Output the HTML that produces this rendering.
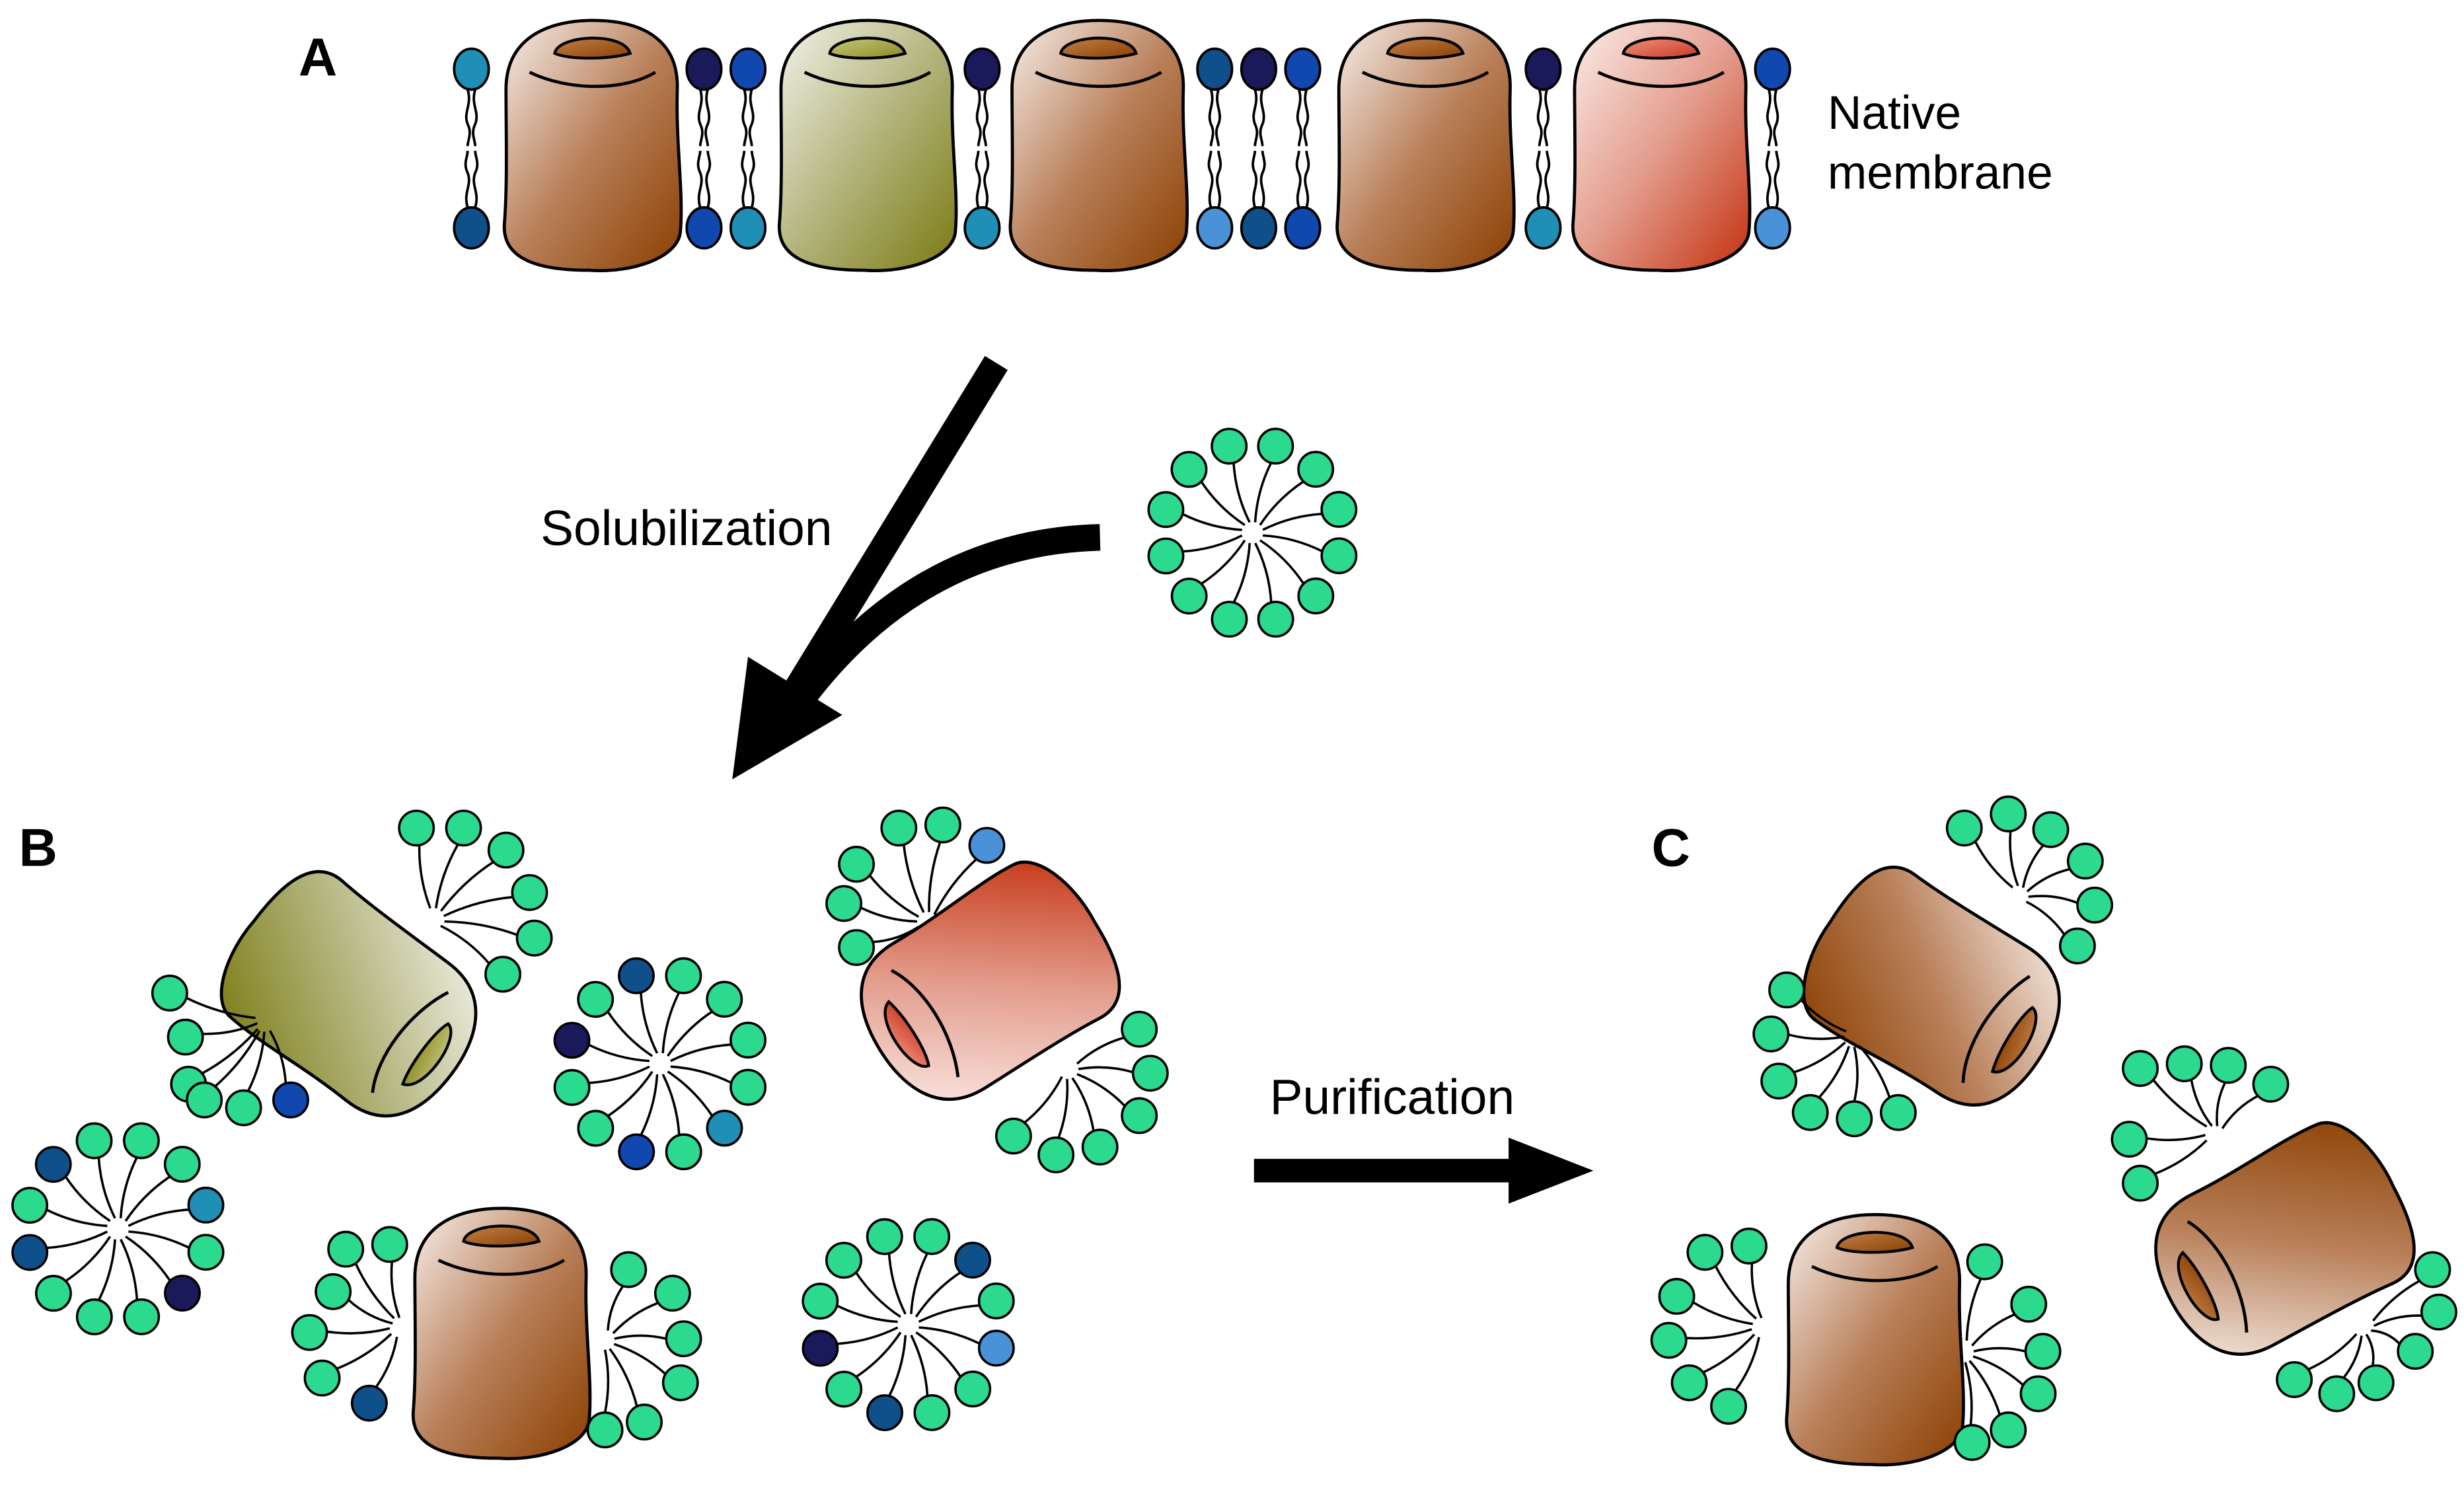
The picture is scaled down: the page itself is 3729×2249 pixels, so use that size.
<!DOCTYPE html>
<html><head><meta charset="utf-8">
<style>
html,body{margin:0;padding:0;background:#fff;}
svg{display:block;}
text{font-family:"Liberation Sans",Arial,sans-serif;fill:#000;}
</style></head>
<body>
<svg id="s" width="3729" height="2249" viewBox="0 0 1568 945.7" preserveAspectRatio="none" xmlns="http://www.w3.org/2000/svg">
<defs>
<linearGradient id="gBrown" x1="0" y1="0" x2="1" y2="1"><stop offset="0" stop-color="#f7efea"/><stop offset="0.5" stop-color="#b9805a"/><stop offset="1" stop-color="#8a3f00"/></linearGradient>
<linearGradient id="gOlive" x1="0" y1="0" x2="1" y2="1"><stop offset="0" stop-color="#f3f3ec"/><stop offset="0.5" stop-color="#b3b47c"/><stop offset="1" stop-color="#7a7a12"/></linearGradient>
<linearGradient id="gRed" x1="0" y1="0" x2="1" y2="1"><stop offset="0" stop-color="#fbeeea"/><stop offset="0.5" stop-color="#e39c8c"/><stop offset="1" stop-color="#c3300e"/></linearGradient>
<linearGradient id="pBrown" x1="0" y1="0" x2="1" y2="1"><stop offset="0" stop-color="#c0804a"/><stop offset="1" stop-color="#8a3f00"/></linearGradient>
<linearGradient id="pOlive" x1="0" y1="0" x2="1" y2="1"><stop offset="0" stop-color="#c8c880"/><stop offset="1" stop-color="#8a8a20"/></linearGradient>
<linearGradient id="pRed" x1="0" y1="0" x2="1" y2="1"><stop offset="0" stop-color="#f09080"/><stop offset="1" stop-color="#c83a20"/></linearGradient>
</defs>
<g id="lip"></g>
<g id="prot"></g>
<g id="mic"></g>
<g fill="none" stroke="#000" stroke-width="17">
<line x1="634" y1="231" x2="500" y2="450"/>
<path d="M700,342 Q585,345 510,445"/>
</g>
<polygon points="466,496 476,418 536,455" fill="#000"/>
<line x1="798" y1="745" x2="965" y2="745" stroke="#000" stroke-width="15"/>
<polygon points="960,724 1014,745 960,766" fill="#000"/>
<text x="190" y="48" font-size="34" font-weight="bold">A</text>
<text x="12" y="551" font-size="34" font-weight="bold">B</text>
<text x="1051" y="551" font-size="34" font-weight="bold">C</text>
<text x="1163" y="82" font-size="30">Native</text>
<text x="1163" y="120" font-size="30">membrane</text>
<text x="344" y="347" font-size="31.5">Solubilization</text>
<text x="808" y="709" font-size="31.5">Purification</text>
</svg>
<script>
var NS="http://www.w3.org/2000/svg";
function el(parent,tag,attrs){var e=document.createElementNS(NS,tag);for(var k in attrs)e.setAttribute(k,attrs[k]);parent.appendChild(e);return e;}
var G='#2bd98f';
var P=document.getElementById('prot');
function protein(cx,cy,rot,c){
 var g=el(P,'g',{transform:'translate('+cx+','+cy+') rotate('+rot+') translate(-59,-80)'});
 el(g,'path',{d:'M5,45 C5,10 35,1 60,1 C90,1 115,12 114,45 C113,80 118,110 116,135 C115,152 85,162 58,160 C30,160 2,155 4,130 C6,105 5,70 5,45 Z',fill:'url(#g'+c+')',stroke:'#000','stroke-width':2});
 el(g,'path',{d:'M20,34 C45,46 80,46 100,34',fill:'none',stroke:'#000','stroke-width':2});
 el(g,'path',{d:'M36,22 C38,10 80,8 84,22 C70,26 45,26 36,22 Z',fill:'url(#p'+c+')',stroke:'#000','stroke-width':1.8});
}
protein(376,92,0,'Brown');protein(551,92,0,'Olive');protein(698,92,0,'Brown');protein(906,92,0,'Brown');protein(1056,92,0,'Red');
protein(225,635,127,'Olive');protein(628,628,-122,'Red');protein(318,848,0,'Brown');
protein(1232,630,122,'Brown');protein(1192,852,0,'Brown');protein(1452,792,-118,'Brown');
var L=document.getElementById('lip');
var lx=[300,448,476,625,773,801,829,982,1128];
var ct=['#1f8fb5','#1a1a5a','#1048b0','#1a1a5a','#10508a','#1a1a5a','#1048b0','#1a1a5a','#1048b0'];
var cb=['#10508a','#1048b0','#1f8fb5','#1f8fb5','#4a92d8','#10508a','#1048b0','#1f8fb5','#4a92d8'];
lx.forEach(function(x,i){
 [[-4,1],[4,-1]].forEach(function(o){
  el(L,'path',{d:'M'+(x+o[0]*0.6)+',57 c'+(o[1]*3)+',10 '+(-o[1]*3)+',14 0,22 c'+(o[1]*3)+',6 0,10 0,14',fill:'none',stroke:'#000','stroke-width':1.6});
  el(L,'path',{d:'M'+(x+o[0]*0.6)+',132 c'+(-o[1]*3)+',-10 '+(o[1]*3)+',-14 0,-22 c'+(-o[1]*3)+',-6 0,-10 0,-14',fill:'none',stroke:'#000','stroke-width':1.6});
 });
 el(L,'ellipse',{cx:x,cy:44,rx:11,ry:13,fill:ct[i],stroke:'#000','stroke-width':1.6});
 el(L,'ellipse',{cx:x,cy:145,rx:11,ry:13,fill:cb[i],stroke:'#000','stroke-width':1.6});
});
var M=document.getElementById('mic');
function head(x,y,cx,cy,col){
 var dx=cx-x,dy=cy-y,d=Math.sqrt(dx*dx+dy*dy),ux=dx/d,uy=dy/d;
 var sx=x+ux*11,sy=y+uy*11,ex=x+dx*0.88,ey=y+dy*0.88;
 var mx=(sx+ex)/2-uy*4,my=(sy+ey)/2+ux*4;
 el(M,'path',{d:'M'+sx+','+sy+' Q'+mx+','+my+' '+ex+','+ey,fill:'none',stroke:'#000','stroke-width':1.5});
 el(M,'circle',{cx:x,cy:y,r:11,fill:col||G,stroke:'#000','stroke-width':1.5});
}
function full(cx,cy,r,n,a0,cols){
 for(var i=0;i<n;i++){var a=a0+i*2*Math.PI/n;head(cx+r*Math.cos(a),cy+r*Math.sin(a),cx,cy,cols&&cols[i]);}
}
full(797,339,57,12,-1.57+0.26);
full(420,677,58,12,-1.57+0.26,[null,null,null,null,'#1f8fb5',null,'#1048b0',null,null,'#1a1a5a',null,'#10508a']);
full(75,782,58,12,-1.57+0.26,[null,null,'#1f8fb5',null,'#1a1a5a',null,null,null,'#10508a',null,'#10508a',null]);
full(578,843,58,12,-1.57+0.26,[null,'#10508a',null,'#4a92d8',null,null,'#10508a',null,'#1a1a5a',null,null,null]);
function fan(cx,cy,pts){pts.forEach(function(p){head(p[0],p[1],cx,cy,p[2]);});}
fan(275,585,[[265,527],[295,527],[322,541],[337,568],[340,597],[320,620]]);
fan(170,650,[[108,632],[118,660],[120,690],[130,700],[155,705],[185,700,'#1048b0']]);
fan(590,588,[[545,550],[572,527],[600,525],[628,538,'#4a92d8'],[537,575],[545,603]]);
fan(680,680,[[725,655],[732,683],[725,710],[700,730],[672,735],[645,723]]);
fan(255,845,[[220,795],[248,792],[212,822],[197,848],[205,877],[235,893,'#10508a']]);
fan(385,852,[[400,808],[428,823],[435,852],[433,880],[410,905],[385,910]]);
fan(1285,570,[[1250,527],[1278,518],[1305,528],[1327,548],[1333,576],[1322,602]]);
fan(1180,660,[[1137,630],[1127,658],[1132,688],[1152,708],[1180,712],[1208,708]]);
fan(1122,845,[[1085,797],[1113,793],[1067,825],[1062,853],[1075,880],[1100,895]]);
fan(1250,860,[[1263,803],[1291,830],[1300,860],[1297,887],[1278,910],[1255,918]]);
fan(1410,722,[[1362,680],[1390,677],[1418,678],[1445,690],[1355,725],[1362,753]]);
fan(1505,845,[[1548,808],[1552,835],[1537,860],[1512,880],[1487,887],[1460,878]]);
</script>
</body></html>
